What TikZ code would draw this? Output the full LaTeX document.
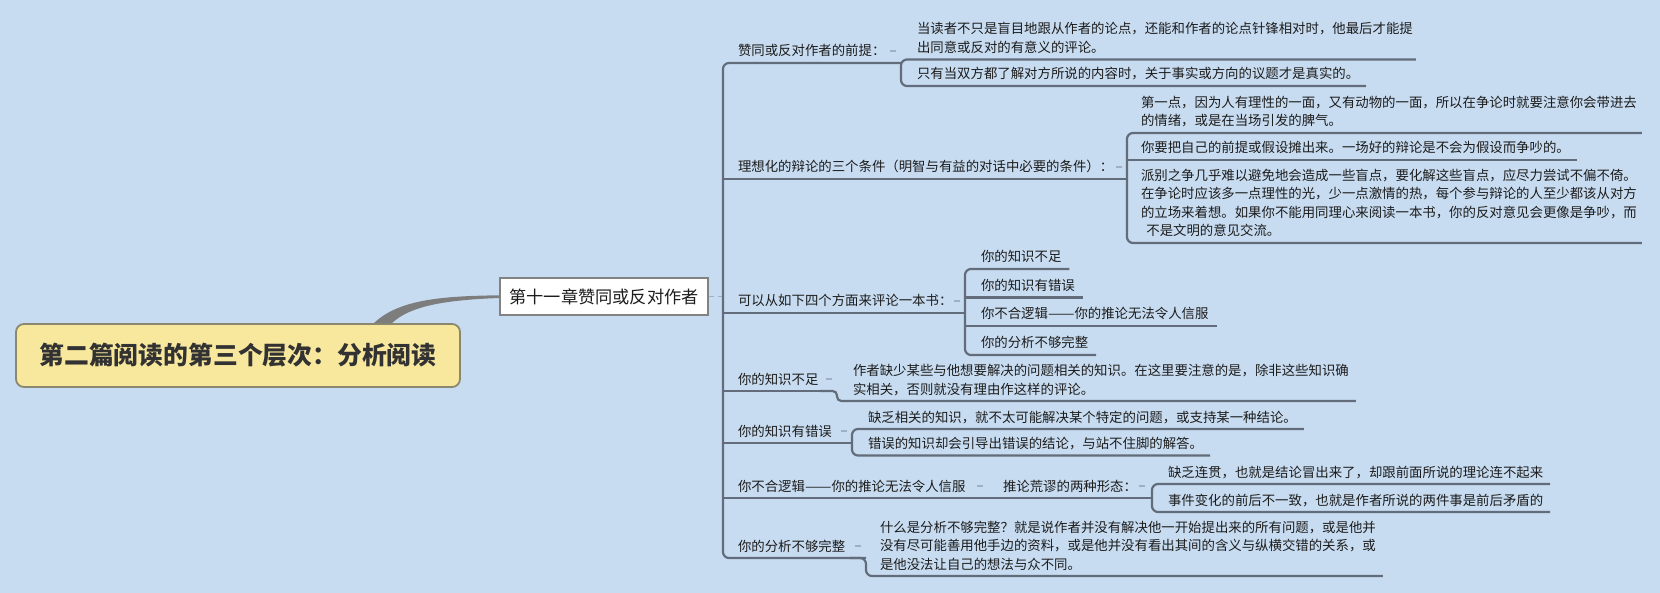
\documentclass[tikz,border=0pt]{standalone}
\usepackage{fontspec}
\usepackage{graphicx}
\setmainfont{Noto Sans CJK SC}
\usetikzlibrary{calc}
\definecolor{bg}{RGB}{200,220,241}
\definecolor{ln}{RGB}{98,108,122}
\definecolor{txt}{RGB}{28,28,28}
\definecolor{rootfill}{RGB}{248,232,158}
\definecolor{rootline}{RGB}{138,136,110}
\definecolor{mk}{RGB}{160,176,196}
\definecolor{curvecol}{RGB}{125,125,125}
\newcommand\ts{\rule[-3.5pt]{0pt}{6pt}}
\newcommand\dd{\scalebox{1.18}[1]{——}}
\begin{document}
\begin{tikzpicture}[x=0.5pt,y=-0.5pt,
  ul/.style={draw=ln, line width=1.1pt, rounded corners=3pt},
  tx/.style={anchor=south west, inner sep=0pt, outer sep=0pt, align=left, text=txt,
    font=\fontsize{6.7pt}{9.25pt}\selectfont},
  mkr/.style={draw=mk, line width=0.7pt},
]
\useasboundingbox (0,0) rectangle (1660,593);
\fill[bg] (0,0) rectangle (1660,593);

% root and chapter
\node[draw=rootline, fill=rootfill, rounded corners=4pt, line width=0.9pt,
  minimum width=222pt, minimum height=31.5pt, inner sep=0pt, text={rgb,255:red,50;green,50;blue,50},
  font=\fontsize{12.4pt}{14pt}\selectfont\bfseries] (root) at (238,355.5) {第二篇阅读的第三个层次：分析阅读};
\node[draw={rgb,255:red,130;green,130;blue,130}, fill=white, line width=0.6pt,
  minimum width=104pt, minimum height=18.5pt, inner sep=0pt, text=txt,
  font=\fontsize{8.6pt}{10pt}\selectfont] (chap) at (604,296.5) {第十一章赞同或反对作者};
\fill[curvecol] ($(root.north)+(136,0)$) .. controls (398,300) and (440,296) .. ($(chap.west)+(0,-1.2)$)
  -- ($(chap.west)+(0,1.5)$) .. controls (445,300) and (410,306) .. ($(root.north)+(154,0)$) -- cycle;
\draw[mkr, dash pattern=on 2.5pt off 2pt] (chap.east) -- (723,296.5);

% level 1 texts
\node[tx] (g1) at (738,63) {赞同或反对作者的前提：\ts};
\node[tx] (g2) at (738,179) {理想化的辩论的三个条件（明智与有益的对话中必要的条件）：\ts};
\node[tx] (g3) at (738,313) {可以从如下四个方面来评论一本书：\ts};
\node[tx] (g4) at (738,391) {你的知识不足\ts};
\node[tx] (g5) at (738,443) {你的知识有错误\ts};
\node[tx] (g6) at (738,498) {你不合逻辑\dd 你的推论无法令人信服\ts};
\node[tx] (g7) at (738,558) {你的分析不够完整\ts};

% children
\node[tx] (a1) at (917,59.5) {当读者不只是盲目地跟从作者的论点，还能和作者的论点针锋相对时，他最后才能提\\出同意或反对的有意义的评论。\ts};
\node[tx] (a2) at (917,86) {只有当双方都了解对方所说的内容时，关于事实或方向的议题才是真实的。\ts};

\node[tx] (b1) at (1141,133) {第一点，因为人有理性的一面，又有动物的一面，所以在争论时就要注意你会带进去\\的情绪，或是在当场引发的脾气。\ts};
\node[tx] (b2) at (1141,160) {你要把自己的前提或假设摊出来。一场好的辩论是不会为假设而争吵的。\ts};
\node[tx] (b3) at (1141,243) {派别之争几乎难以避免地会造成一些盲点，要化解这些盲点，应尽力尝试不偏不倚。\\在争论时应该多一点理性的光，少一点激情的热，每个参与辩论的人至少都该从对方\\的立场来着想。如果你不能用同理心来阅读一本书，你的反对意见会更像是争吵，而\\\hspace*{0.4em}不是文明的意见交流。\ts};

\node[tx] (c1) at (981,269) {你的知识不足\ts};
\node[tx] (c2) at (981,297.5) {你的知识有错误\ts};
\node[tx] (c3) at (981,326) {你不合逻辑\dd 你的推论无法令人信服\ts};
\node[tx] (c4) at (981,355) {你的分析不够完整\ts};

\node[tx] (d1) at (853,401) {作者缺少某些与他想要解决的问题相关的知识。在这里要注意的是，除非这些知识确\\实相关，否则就没有理由作这样的评论。\ts};

\node[tx] (e1) at (868,429) {缺乏相关的知识，就不太可能解决某个特定的问题，或支持某一种结论。\ts};
\node[tx] (e2) at (868,455.5) {错误的知识却会引导出错误的结论，与站不住脚的解答。\ts};

\node[tx] (f0) at (1003,498) {推论荒谬的两种形态：\ts};
\node[tx] (f1) at (1168,484) {缺乏连贯，也就是结论冒出来了，却跟前面所说的理论连不起来\ts};
\node[tx] (f2) at (1168,512) {事件变化的前后不一致，也就是作者所说的两件事是前后矛盾的\ts};

\node[tx] (k1) at (880,576) {什么是分析不够完整？就是说作者并没有解决他一开始提出来的所有问题，或是他并\\没有尽可能善用他手边的资料，或是他并没有看出其间的含义与纵横交错的关系，或\\是他没法让自己的想法与众不同。\ts};

% trunk
\draw[ul] (901,63) -- (723,63) -- (723,558) -- (866,558);
\draw[ul] (723,179) -- (1127,179);
\draw[ul] (723,313) -- (965,313);
\draw[ul] (723,391) -- (823,391);
\draw[ul] (723,443) -- (852,443);
\draw[ul] (723,498) -- (1152,498);

% group 1
\draw[ul] ($(a1.south east)+(3,0)$) -- (901,59.5) -- (901,86) -- ($(a2.south east)+(7,0)$);
% group 2
\draw[ul] ($(b1.south east)+(5,0)$) -- (1127,133) -- (1127,243) -- ($(b3.south east)+(5,0)$);
\draw[ul] (1127,160) -- ($(b2.south east)+(7,0)$);
% group 3
\draw[ul] ($(c1.south east)+(8,0)$) -- (965,269) -- (965,355) -- ($(c4.south east)+(8,0)$);
\draw[ul] (965,297.5) -- ($(c2.south east)+(8,0)$);
\draw[ul] (965,326) -- ($(c3.south east)+(8,0)$);
% group 4
\draw[ul, rounded corners=2.2pt] (820,391) -- (837,391) -- (837,401) -- ($(d1.south east)+(7,0)$);
% group 5
\draw[ul] ($(e1.south east)+(7,0)$) -- (852,429) -- (852,455.5) -- ($(e2.south east)+(7,0)$);
% group 6
\draw[ul] ($(f1.south east)+(7,0)$) -- (1152,484) -- (1152,512) -- ($(f2.south east)+(7,0)$);
% group 7
\draw[ul] (850,558) -- (866,558) -- (866,576) -- ($(k1.south east)+(7,0)$);

% collapse markers
\foreach \mx/\my in {893/51, 1119/167, 957/301, 829/379, 844/431, 980/486, 1142/486, 858/546}{
  \draw[mkr] (\mx-3,\my) -- (\mx+3,\my);
}
\end{tikzpicture}
\end{document}
